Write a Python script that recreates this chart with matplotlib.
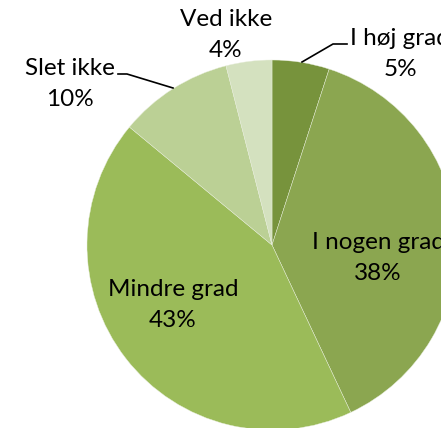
import matplotlib.pyplot as plt

# data
labels = ['I høj grad', 'I nogen grad', 'Mindre grad', 'Slet ikke', 'Ved ikke']
values = [5, 38, 43, 10, 4]
colors = ['#77933C', '#8BA650', '#9BBB59', '#BBD095', '#D4E1BF']

W, H = 441, 428
cx, cy, R = 272, 245, 185

fig = plt.figure(figsize=(W / 100, H / 100), dpi=100)
ax = fig.add_axes([0, 0, 1, 1])

ax.pie(values, colors=colors, startangle=90, counterclock=False,
       wedgeprops=dict(edgecolor='#e8eedc', linewidth=0.3))


def px(x, y):
    # pixel position in the picture -> data coords
    return (x - cx) / R, (cy - y) / R


ax.set_xlim(-cx / R, (W - cx) / R)
ax.set_ylim((cy - H) / R, cy / R)
ax.set_aspect('auto')
ax.axis('off')

font = dict(family='Lato', fontsize=17.5, color='black', linespacing=1.6,
            ha='center', va='center')

# label positions (pixels)
label_pos = [(400, 54), (378, 258), (173, 305), (70, 84), (226, 35)]
for lab, v, (x, y) in zip(labels, values, label_pos):
    ax.text(*px(x, y), f'{lab}\n{v}%', **font)

# leader lines
for pts in ([(302, 62), (333, 44), (347, 44)],
            [(173, 88), (127, 74), (118, 74)]):
    xs, ys = zip(*[px(x, y) for x, y in pts])
    ax.plot(xs, ys, color='black', lw=1.2)

fig.savefig('out.png', dpi=100)
